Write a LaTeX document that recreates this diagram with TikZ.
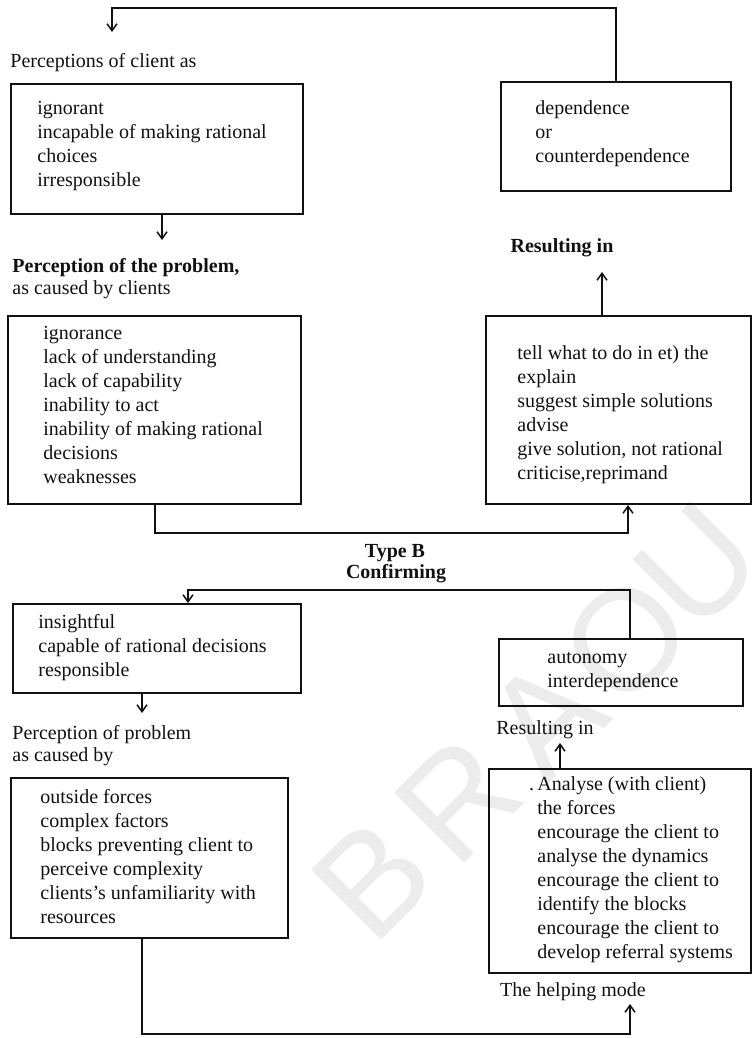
\documentclass[tikz,border=0pt]{standalone}
\usepackage{fontspec}
\setmainfont{Liberation Serif}
\newfontfamily\wmfont{Liberation Sans}
\usetikzlibrary{arrows.meta}
\definecolor{inkcol}{HTML}{111111}
\definecolor{markcol}{HTML}{ECECEC}

\tikzset{
  box/.style={draw=inkcol,line width=1pt,anchor=north west,inner sep=0pt},
  items/.style={anchor=west,align=left,inner sep=0pt,text=inkcol,font=\fontsize{10}{12}\selectfont},
  head/.style={anchor=west,inner sep=0pt,text=inkcol,font=\fontsize{10}{12}\selectfont},
  headb/.style={head,font=\fontsize{10}{12}\selectfont\bfseries},
  link/.style={draw=inkcol,line width=.75pt},
  arr/.style={link,-{Straight Barb[length=3.5pt,width=5pt]}}
}

\begin{document}
\begin{tikzpicture}[x=.5pt,y=-.5pt]
\useasboundingbox (0,0) rectangle (752,1038);

% watermark
\foreach \l/\px/\py in {B/372/880,R/458/800,A/545/718,O/626/640,U/698/566}
  \node[text=markcol,rotate=45,font=\wmfont\fontsize{72}{72}\selectfont] at (\px,\py) {\l};

% Type A
\node[head] (pcl) at (10,63) {Perceptions of client as};
\node[box,minimum width=146pt,minimum height=65pt] (cl) at (10,83) {};
\node[items] at (37,146) {ignorant\\incapable of making rational\\choices\\irresponsible};
\node[headb] (pp) at (12,268) {Perception of the problem,};
\node[head] (pc) at (12,290) {as caused by clients};
\node[box,minimum width=146.5pt,minimum height=94pt] (pb) at (7,315) {};
\node[items] at (43,405) {ignorance\\lack of understanding\\lack of capability\\inability to act\\inability of making rational\\decisions\\weaknesses};

\node[box,minimum width=115pt,minimum height=54.5pt] (dep) at (500,81) {};
\node[items] at (535,134) {dependence\\or\\counterdependence};
\node[headb,anchor=center] (res) at (562,248) {Resulting in};
\node[box,minimum width=132.5pt,minimum height=94pt] (tell) at (485,315) {};
\node[items] at (517,415) {tell what to do in et) the\\explain\\suggest simple solutions\\advise\\give solution, not rational\\criticise,reprimand};

\coordinate (tip) at (112,32);
\draw[arr] (dep.north) |- (tip |- 0,8) -- (tip);
\draw[arr] (cl.south -| 162,0) -- (162,240);
\draw[arr] (pb.south -| 155,0) |- (628,533) -- (tell.south -| 628,0);
\draw[arr] (tell.north -| 602,0) -- (602,272);

% Type B
\node[headb,anchor=center] (tb) at (395,553) {Type B};
\node[headb,anchor=center] (cf) at (396,574) {Confirming};
\node[box,minimum width=144pt,minimum height=44.5pt] (ins) at (12,603) {};
\node[items] at (38,648) {insightful\\capable of rational decisions\\responsible};
\node[head] (pq) at (12,735) {Perception of problem};
\node[head] (pq2) at (12,757) {as caused by};
\node[box,minimum width=138.5pt,minimum height=80pt] (out) at (10,777) {};
\node[items] at (40,857) {outside forces\\complex factors\\blocks preventing client to\\perceive complexity\\clients's unfamiliarity with\\resources};

\node[box,minimum width=122pt,minimum height=33.5pt] (aut) at (498,638) {};
\node[items] at (547,672) {autonomy\\interdependence};
\node[head,anchor=center] (res2) at (545,730) {Resulting in};
\node[box,minimum width=131pt,minimum height=102pt] (ana) at (488,768) {};
\node[items] at (537,870) {\llap{.\,}Analyse (with client)\\the forces\\encourage the client to\\analyse the dynamics\\encourage the client to\\identify the blocks\\encourage the client to\\develop referral systems};
\node[head,anchor=center] (hm) at (573,992) {The helping mode};

\draw[arr] (aut.north -| 630,0) |- (188,590) -- (ins.north -| 188,0);
\draw[arr] (ins.south -| 142,0) -- (142,713);
\draw[arr] (ana.north -| 560,0) -- (560,743);
\draw[arr] (out.south -| 142,0) |- (630,1034) -- (630,1004);
\end{tikzpicture}
\end{document}
